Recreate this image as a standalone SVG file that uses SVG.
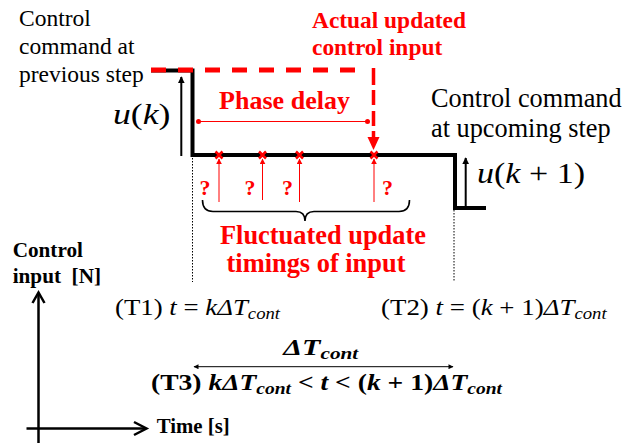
<svg xmlns="http://www.w3.org/2000/svg" width="624" height="443" viewBox="0 0 624 443">
<defs>
<style>
text{font-family:"Liberation Serif","DejaVu Serif","Noto Serif",serif;fill:#000}
.red{fill:#ff0000;font-weight:bold}
.bold{font-weight:bold}
.it{font-style:italic}
.sig{fill:none;stroke:#000;stroke-width:4}
.dot{fill:none;stroke:#000;stroke-width:1;stroke-dasharray:1.5 1.5}
.thinred{fill:none;stroke:#ff0000;stroke-width:1}
.cross{fill:none;stroke:#ff0000;stroke-width:2.5}
.axis{fill:none;stroke:#000;stroke-width:2.5}
</style>
<marker id="ahBlack" viewBox="0 0 10 10" refX="9" refY="5" markerWidth="7" markerHeight="7" markerUnits="userSpaceOnUse" orient="auto">
<path d="M0,0 L10,5 L0,10 z" fill="#000"/>
</marker>
<marker id="ahRed" viewBox="0 0 10 10" refX="9" refY="5" markerWidth="6" markerHeight="6" markerUnits="userSpaceOnUse" orient="auto">
<path d="M0,0 L10,5 L0,10 z" fill="#ff0000"/>
</marker>
<marker id="ahThin" viewBox="0 0 10 10" refX="9" refY="5" markerWidth="6" markerHeight="5" markerUnits="userSpaceOnUse" orient="auto-start-reverse">
<path d="M0,0 L10,5 L0,10 z" fill="#000"/>
</marker>
<marker id="dotRed" viewBox="0 0 10 10" refX="5" refY="5" markerWidth="5" markerHeight="5" markerUnits="userSpaceOnUse">
<circle cx="5" cy="5" r="5" fill="#ff0000"/>
</marker>
</defs>
<rect width="624" height="443" fill="#fff"/>

<g id="connectors">
<path class="sig" d="M151,70.5 H192.5 V155 H455 V208 H486"/>
<path d="M151,70 H362" fill="none" stroke="#ff0000" stroke-width="5" stroke-dasharray="15 12"/>
<path d="M373.5,68 V138" fill="none" stroke="#ff0000" stroke-width="3.5" stroke-dasharray="17 5 15 6 15 5 15 6"/>
<path d="M367.5,137 L379.5,137 L373.5,150 z" fill="#ff0000"/>
<path class="thinred" d="M198.5,121.5 H367.5" stroke-width="1.3" marker-start="url(#dotRed)" marker-end="url(#dotRed)"/>
<path d="M181.3,156 V77" fill="none" stroke="#000" stroke-width="2" marker-end="url(#ahBlack)"/>
<path d="M465.7,206 V158" fill="none" stroke="#000" stroke-width="2" marker-end="url(#ahBlack)"/>
<path class="dot" d="M192.5,158 V282"/>
<path class="dot" d="M454,210 V282"/>
<path class="thinred" d="M219,202 V159" marker-end="url(#ahRed)"/>
<path class="thinred" d="M262.5,200 V159" marker-end="url(#ahRed)"/>
<path class="thinred" d="M299.5,202 V159" marker-end="url(#ahRed)"/>
<path class="thinred" d="M374,202 V159" marker-end="url(#ahRed)"/>
<path class="cross" d="M215.5,151.5 l7,7 m0,-7 l-7,7"/>
<path class="cross" d="M259,151.5 l7,7 m0,-7 l-7,7"/>
<path class="cross" d="M296,151.5 l7,7 m0,-7 l-7,7"/>
<path class="cross" d="M370.5,151.5 l7,7 m0,-7 l-7,7"/>
<path d="M202.5,200 Q202.5,211.5 213,211.5 L296,211.5 Q305,211.5 305,221 Q305,211.5 314,211.5 L399,211.5 Q409.5,211.5 409.5,200" fill="none" stroke="#000" stroke-width="1.6"/>
<path d="M194,366.7 H453" fill="none" stroke="#000" stroke-width="1" marker-start="url(#ahThin)" marker-end="url(#ahThin)"/>
<path class="axis" d="M38.5,443 V293"/>
<path class="axis" d="M32.5,303 L38.5,292.5 L44.5,303"/>
<path class="axis" d="M26.5,428.5 H146"/>
<path class="axis" d="M134,422 L146.5,428.5 L134,435"/>
</g>

<g id="prev-command">
<text font-size="23.5"><tspan x="19" y="26">Control</tspan><tspan x="19" y="54">command at</tspan><tspan x="19" y="81.7">previous step</tspan></text>
</g>
<g id="actual-input">
<text class="red" font-size="23.4"><tspan x="312" y="28">Actual updated</tspan><tspan x="312" y="54.5">control input</tspan></text>
</g>
<g id="phase-delay">
<text class="red" font-size="26" x="219" y="109" textLength="131">Phase delay</text>
</g>
<g id="next-command">
<text font-size="26.3"><tspan x="431" y="106.7">Control command</tspan><tspan x="431" y="136.7">at upcoming step</tspan></text>
</g>
<g id="uk">
<text font-size="29" x="113" y="124" textLength="57.5" lengthAdjust="spacingAndGlyphs"><tspan class="it">u</tspan>(<tspan class="it">k</tspan>)</text>
</g>
<g id="uk1">
<text font-size="29" x="477" y="183" textLength="108" lengthAdjust="spacingAndGlyphs"><tspan class="it">u</tspan>(<tspan class="it">k</tspan> + 1)</text>
</g>
<g id="question-marks">
<text class="red" font-size="22" text-anchor="middle"><tspan x="205" y="195">?</tspan><tspan x="250" y="195">?</tspan><tspan x="287.5" y="195">?</tspan><tspan x="387.5" y="195">?</tspan></text>
</g>
<g id="fluctuated">
<text class="red" font-size="26.4" text-anchor="middle"><tspan x="323" y="243.5">Fluctuated update</tspan><tspan x="316" y="271.5">timings of input</tspan></text>
</g>
<g id="y-axis-label">
<text class="bold" font-size="21.2"><tspan x="12.7" y="256.7">Control</tspan><tspan x="12.7" y="283.3" xml:space="preserve">input  [N]</tspan></text>
</g>
<g id="x-axis-label">
<text class="bold" font-size="20.8" x="156.7" y="433.3">Time [s]</text>
</g>
<g id="t1">
<text font-size="23" x="115" y="315" textLength="165" lengthAdjust="spacingAndGlyphs">(T1) <tspan class="it">t</tspan> = <tspan class="it">kΔT</tspan><tspan class="it" font-size="16" dy="4">cont</tspan></text>
</g>
<g id="t2">
<text font-size="23" x="381" y="315" textLength="225.7" lengthAdjust="spacingAndGlyphs">(T2) <tspan class="it">t</tspan> = (<tspan class="it">k</tspan> + 1)<tspan class="it">ΔT</tspan><tspan class="it" font-size="16" dy="4">cont</tspan></text>
</g>
<g id="dt">
<text class="bold" font-size="24" x="283.3" y="355" textLength="75" lengthAdjust="spacingAndGlyphs"><tspan class="it">ΔT</tspan><tspan class="it" font-size="17" dy="4">cont</tspan></text>
</g>
<g id="t3">
<text class="bold" font-size="24" x="151" y="389.5" textLength="351" lengthAdjust="spacingAndGlyphs">(T3) <tspan class="it">kΔT</tspan><tspan class="it" font-size="17" dy="4">cont</tspan><tspan dy="-4"> &lt; </tspan><tspan class="it">t</tspan> &lt; (<tspan class="it">k</tspan> + 1)<tspan class="it">ΔT</tspan><tspan class="it" font-size="17" dy="4">cont</tspan></text>
</g>
</svg>
